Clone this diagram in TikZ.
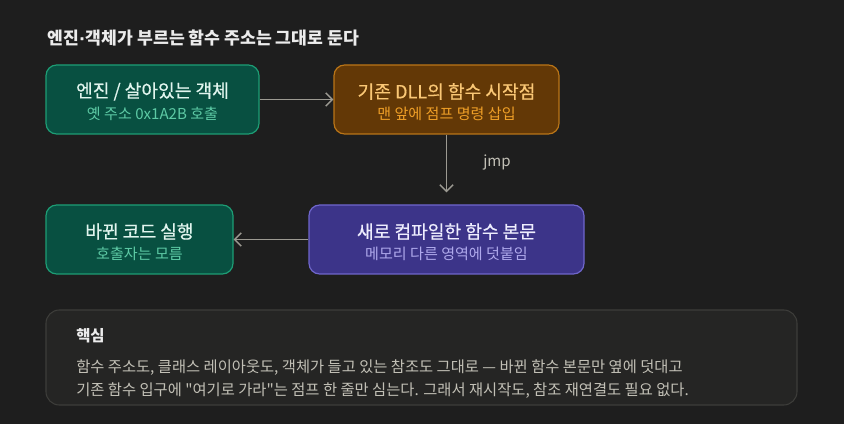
\documentclass[tikz,border=0pt]{standalone}
\usepackage{fontspec}
\setmainfont{Noto Sans CJK KR}[Ligatures=TeXOff]
\newfontfamily\medfont{Noto Sans CJK KR}[FakeBold=0.6]
\newfontfamily\dotfont{Liberation Sans}[FakeBold=1]
\usetikzlibrary{arrows.meta}
\definecolor{bgc}{HTML}{1E1E1E}
\definecolor{tealfill}{HTML}{085041}
\definecolor{tealline}{HTML}{1D9E75}
\definecolor{tealtitle}{HTML}{E1F5EE}
\definecolor{tealsub}{HTML}{5DCAA5}
\definecolor{amberfill}{HTML}{633806}
\definecolor{amberline}{HTML}{BA7517}
\definecolor{ambertitle}{HTML}{FAC775}
\definecolor{ambersub}{HTML}{EF9F27}
\definecolor{purpfill}{HTML}{3C3489}
\definecolor{purpline}{HTML}{6F66CC}
\definecolor{purptitle}{HTML}{EEEDFE}
\definecolor{purpsub}{HTML}{AFA9EC}
\definecolor{panelfill}{HTML}{252524}
\definecolor{panelline}{HTML}{3D3D3A}
\definecolor{headc}{HTML}{ECECEC}
\definecolor{bodyc}{HTML}{C2C0B6}
\definecolor{arrowc}{HTML}{9C9A92}
\tikzset{
  box/.style={rectangle, rounded corners=8pt, line width=0.9pt, inner sep=0pt},
  tealbox/.style={box, fill=tealfill, draw=tealline},
  amberbox/.style={box, fill=amberfill, draw=amberline},
  purpbox/.style={box, fill=purpfill, draw=purpline},
  ttl/.style={inner sep=0pt, font=\fontsize{13.6pt}{15pt}\medfont},
  sub/.style={inner sep=0pt, font=\fontsize{11.3pt}{13pt}\selectfont},
  conn/.style={draw=arrowc, line width=1.1pt, -{Straight Barb[length=5pt,width=10pt,line width=1.1pt]}},
}
\begin{document}
\begin{tikzpicture}[x=0.75pt,y=-0.75pt]
\useasboundingbox[fill=bgc] (0,0) rectangle (844,424);
% heading
\node[anchor=west, inner sep=0pt, text=headc, font=\fontsize{12.9pt}{15pt}\selectfont\bfseries] (head) at (47,38) {엔진{\dotfont\fontsize{12.9pt}{15pt}\selectfont\kern0.5pt·\kern0.5pt}객체가 부르는 함수 주소는 그대로 둔다};
% boxes
\node[tealbox, minimum width=213*0.75pt, minimum height=69*0.75pt] (b1) at (152.5,99.5) {};
\node[ttl, text=tealtitle] (b1t) at (152.5,91.5) {엔진 / 살아있는 객체};
\node[sub, text=tealsub] (b1s) at (152.5,114) {옛 주소 0x1A2B 호출};
\node[amberbox, minimum width=225*0.75pt, minimum height=69*0.75pt] (b2) at (446.5,99.5) {};
\node[ttl, text=ambertitle] (b2t) at (446.5,91.5) {기존 DLL의 함수 시작점};
\node[sub, text=ambersub] (b2s) at (446.5,114) {맨 앞에 점프 명령 삽입};
\node[purpbox, minimum width=275*0.75pt, minimum height=69*0.75pt] (b3) at (446.5,239.5) {};
\node[ttl, text=purptitle] (b3t) at (446.5,231.5) {새로 컴파일한 함수 본문};
\node[sub, text=purpsub] (b3s) at (446.5,254) {메모리 다른 영역에 덧붙임};
\node[tealbox, minimum width=187*0.75pt, minimum height=69*0.75pt] (b4) at (139.5,239.5) {};
\node[ttl, text=tealtitle] (b4t) at (139.5,231.5) {바뀐 코드 실행};
\node[sub, text=tealsub] (b4s) at (139.5,254) {호출자는 모름};
% connectors
\draw[conn] (b1.east) -- (b2.west);
\draw[conn] (b2.south) -- ([yshift=9pt]b3.north);
\node[sub, text=bodyc] (jmp) at (497,162) {jmp};
\draw[conn] (b3.west) -- (b4.east);
% panel
\node[rectangle, rounded corners=10pt, fill=panelfill, draw=panelline, line width=0.8pt, minimum width=751*0.75pt, minimum height=95*0.75pt, inner sep=0pt] (panel) at (421.5,357.5) {};
\node[anchor=west, inner sep=0pt, text=headc, font=\fontsize{11.6pt}{13pt}\selectfont\bfseries] (key) at (76,336) {핵심};
\node[anchor=west, inner sep=0pt, text=bodyc, font=\fontsize{11.5pt}{13pt}\selectfont] (l1) at (76,368) {함수 주소도, 클래스 레이아웃도, 객체가 들고 있는 참조도 그대로 — 바뀐 함수 본문만 옆에 덧대고};
\node[anchor=west, inner sep=0pt, text=bodyc, font=\fontsize{11.5pt}{13pt}\selectfont] (l2) at (76,391) {기존 함수 입구에 "여기로 가라"는 점프 한 줄만 심는다. 그래서 재시작도, 참조 재연결도 필요 없다.};
\end{tikzpicture}
\end{document}
